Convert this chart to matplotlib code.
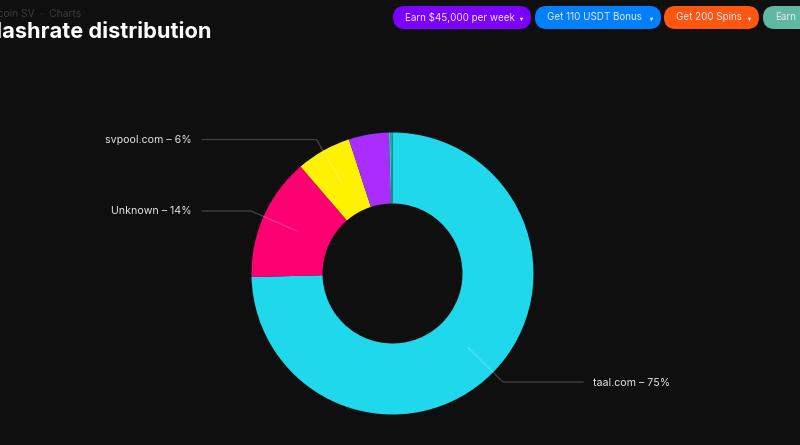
#!/usr/bin/env python3
import matplotlib
matplotlib.use("Agg")
import matplotlib.pyplot as plt
from matplotlib.patches import FancyBboxPatch

# ---------------------------------------------------------------------------
# DATA
# ---------------------------------------------------------------------------
POOLS = ["taal.com", "Unknown", "svpool.com", "other", "tiny a", "tiny b"]
SHARES = [74.6, 14.1, 6.3, 4.6, 0.2, 0.2]
COLORS = ["#20d8ec", "#ff0073", "#fff200", "#aa2cff", "#2ad6a0", "#1f9fc0"]
LABELS = ["taal.com – 75%", "Unknown – 14%", "svpool.com – 6%"]
BUTTONS = ["Earn $45,000 per week", "Get 110 USDT Bonus", "Get 200 Spins", "Earn"]
BUTTON_COLORS = ["#7a00ff", "#0080ff", "#ff5610", "#5fb9a2"]

BG = "#0f0f0f"
H = 445


def Y(y):
    # reference pixel row -> axes y
    return H - y


fig = plt.figure(figsize=(8, 4.45), dpi=100, facecolor=BG)
ax = fig.add_axes([0, 0, 1, 1])
ax.set_facecolor(BG)

ax.pie(SHARES, colors=COLORS, startangle=90, counterclock=False,
       center=(392.5, Y(273.5)), radius=141, frame=True,
       wedgeprops=dict(width=71, linewidth=0))
ax.set_xlim(0, 800)
ax.set_ylim(0, H)
ax.set_aspect("auto")
ax.axis("off")

# leader lines and their labels
leaders = [([583, 503, 468], [382, 382, 347.5]),
           ([202, 251, 297], [211, 211, 231]),
           ([202, 316.5, 341], [139.5, 139.5, 181.5])]
label_pos = [(593, 382.5, "left"), (192, 211.5, "right"), (192, 140, "right")]
for (xs, ys), (lx, ly, ha), txt in zip(leaders, label_pos, LABELS):
    ax.plot(xs, [Y(v) for v in ys], color="white", alpha=0.22, lw=0.9, zorder=5)
    ax.text(lx, Y(ly), txt, color="#e4e4e4", fontsize=7.65, family="Inter",
            ha=ha, va="center")

# header
ax.text(81, Y(14), "Bitcoin SV  ·  Charts", color="#3c3c3c", fontsize=7.4,
        family="Inter", ha="right", va="center")
ax.text(211, Y(32.5), "Hashrate distribution", color="white", fontsize=15.7,
        family="Inter", weight="bold", ha="right", va="center")

# promo buttons
spans = [(393, 531), (535, 661), (664, 759), (763, 830)]
for (x0, x1), name, c in zip(spans, BUTTONS, BUTTON_COLORS):
    ax.add_patch(FancyBboxPatch((x0 + 11.5, Y(29) + 11.5), x1 - x0 - 23, 0,
                                boxstyle="round,pad=11.5,rounding_size=11.5",
                                fc=c, ec="none", zorder=6))
    ax.text(x0 + 12, Y(17.5), name, color="#ece6ff", fontsize=7.1, family="Inter",
            ha="left", va="center", zorder=7)
    if name != "Earn":
        ax.plot([x1 - 10.5], [Y(18.5)], marker="v", ms=2.6, color="#ece6ff",
                mew=0, zorder=7)

fig.savefig("out.png", dpi=100, facecolor=BG)
